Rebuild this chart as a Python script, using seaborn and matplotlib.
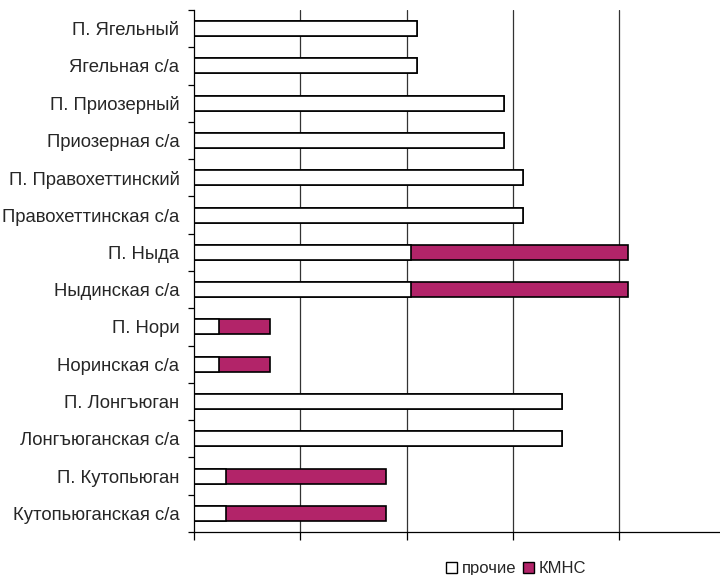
import matplotlib
matplotlib.use("Agg")
import numpy as np
import pandas as pd
import matplotlib.pyplot as plt
import seaborn as sns
from matplotlib.patches import Patch
from matplotlib.ticker import FixedLocator

# categories, top to bottom
places = ["П. Ягельный", "Ягельная с/а", "П. Приозерный", "Приозерная с/а",
          "П. Правохеттинский", "Правохеттинская с/а", "П. Ныда", "Ныдинская с/а",
          "П. Нори", "Норинская с/а", "П. Лонгъюган", "Лонгъюганская с/а",
          "П. Кутопьюган", "Кутопьюганская с/а"]
prochie = [2.10, 2.10, 2.92, 2.92, 3.10, 3.10, 2.04, 2.04,
           0.235, 0.235, 3.46, 3.46, 0.30, 0.30]
kmns = [0, 0, 0, 0, 0, 0, 2.04, 2.04, 0.48, 0.48, 0, 0, 1.51, 1.51]

df = pd.DataFrame({"place": places, "prochie": prochie, "kmns": kmns})
df["total"] = df["prochie"] + df["kmns"]

magenta = "#B22469"

sns.set_style("white")
plt.rcParams['font.family'] = ['Liberation Sans', 'DejaVu Sans']
plt.rcParams['font.size'] = 13

fig = plt.figure(figsize=(7.2, 5.75), dpi=100)
ax = fig.add_axes([194/720, 43/575, 1 - 194/720, 522/575])

sns.barplot(data=df, x="total", y="place", orient="h", color=magenta,
            edgecolor="black", linewidth=1.2, width=0.4, saturation=1, ax=ax)
sns.barplot(data=df, x="prochie", y="place", orient="h", color="white",
            edgecolor="black", linewidth=1.2, width=0.4, saturation=1, ax=ax)

ax.set_xlim(0, 526/106.25)
ax.set_ylim(len(places) - 0.5, -0.5)
ax.set_xlabel("")
ax.set_ylabel("")

# vertical grid
for gx in [1, 2, 3, 4]:
    ax.axvline(gx, color="#333333", linewidth=0.9, zorder=0)
ax.set_axisbelow(True)

# x axis: ticks only, no labels
ax.set_xticks([0, 1, 2, 3, 4])
ax.set_xticklabels([])
ax.tick_params(axis="x", bottom=True, direction="out", length=5.8, width=0.9, color="black")

# y axis: labels at centers, tick marks between categories
ax.tick_params(axis="y", which="major", left=True, length=0, pad=10.5, labelsize=13.3)
ax.yaxis.set_minor_locator(FixedLocator(np.arange(-0.5, len(places), 1)))
ax.tick_params(axis="y", which="minor", left=True, direction="out", length=4.5,
               width=0.9, color="black")

for s in ["top", "right"]:
    ax.spines[s].set_visible(False)
for s in ["left", "bottom"]:
    ax.spines[s].set_color("black")
    ax.spines[s].set_linewidth(0.9)

handles = [Patch(facecolor="white", edgecolor="black", label="прочие"),
           Patch(facecolor=magenta, edgecolor="black", label="КМНС")]
fig.legend(handles=handles, loc="center", bbox_to_anchor=(0.717, 0.011), ncol=2,
           frameon=False, handlelength=0.65, handleheight=0.65, handletextpad=0.3,
           columnspacing=0.4, fontsize=12, borderpad=0)

fig.savefig("out.png", dpi=100)
